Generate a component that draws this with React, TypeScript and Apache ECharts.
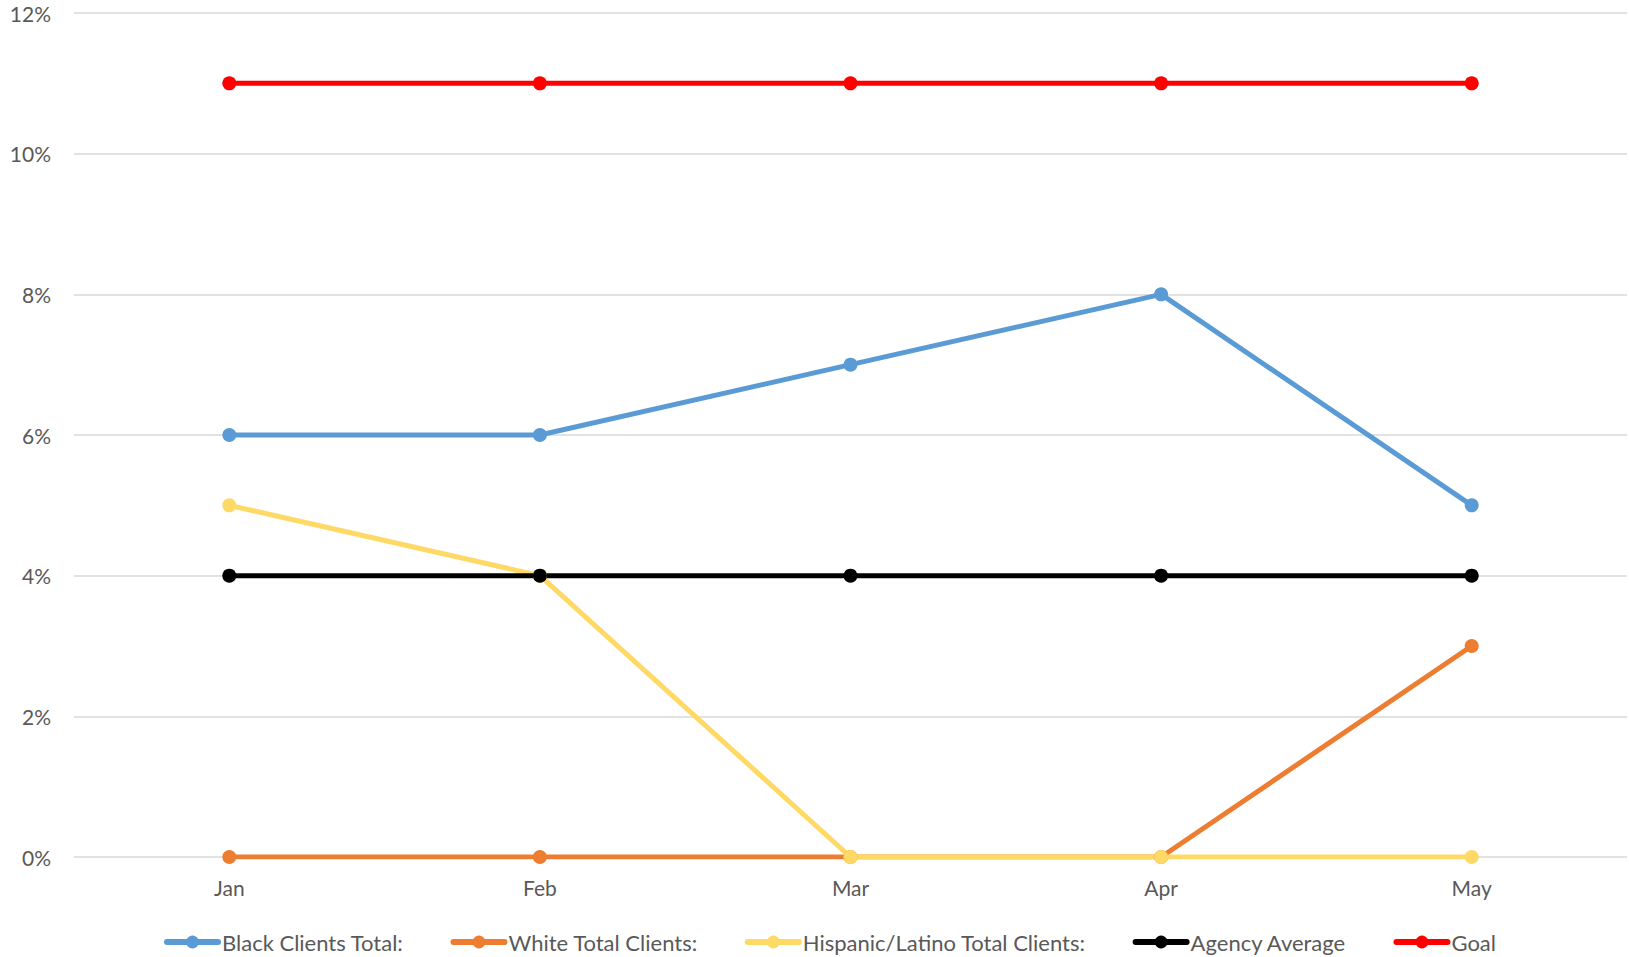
import React, { useEffect, useRef } from "react";
import * as echarts from "echarts";

const categories = ["Jan", "Feb", "Mar", "Apr", "May"];
const blackClients = [0.06, 0.06, 0.07, 0.08, 0.05];
const whiteClients = [0, 0, 0, 0, 0.03];
const hispanicClients = [0.05, 0.04, 0, 0, 0];
const agencyAverage = [0.04, 0.04, 0.04, 0.04, 0.04];
const goal = [0.11, 0.11, 0.11, 0.11, 0.11];

const seriesDefs = [
  { name: "Black Clients Total:", data: blackClients, color: "#5B9BD5" },
  { name: "White Total Clients:", data: whiteClients, color: "#ED7D31" },
  { name: "Hispanic/Latino Total Clients:", data: hispanicClients, color: "#FFD966" },
  { name: "Agency Average", data: agencyAverage, color: "#000000" },
  { name: "Goal", data: goal, color: "#FF0000" },
];

const FONT = "Lato, 'Open Sans', sans-serif";

export default function App() {
  const ref = useRef<HTMLDivElement>(null);
  useEffect(() => {
    if (!ref.current) return;
    const chart = echarts.init(ref.current, undefined, { renderer: "svg" });
    chart.setOption({
      animation: false,
      backgroundColor: "#ffffff",
      grid: { left: 74, right: 2, top: 13, bottom: 100, containLabel: false },
      legend: {
        left: 159,
        top: 926,
        itemWidth: 51,
        itemHeight: 16,
        itemGap: 47,
        lineStyle: { width: 6, cap: "round" },
        textStyle: { fontFamily: FONT, fontSize: 22, color: "#595959", padding: [0, 0, 0, -1] },
        data: seriesDefs.map((s) => s.name),
      },
      xAxis: {
        type: "category",
        data: categories,
        boundaryGap: true,
        axisLine: { show: false },
        axisTick: { show: false },
        axisLabel: { fontFamily: FONT, fontSize: 21, color: "#595959", margin: 20 },
      },
      yAxis: {
        type: "value",
        min: 0,
        max: 0.12,
        interval: 0.02,
        axisLine: { show: false },
        axisTick: { show: false },
        splitLine: { lineStyle: { color: "#D9D9D9", width: 1.5 } },
        axisLabel: {
          fontFamily: FONT,
          fontSize: 21,
          color: "#595959",
          margin: 23,
          formatter: (v: number) => `${Math.round(v * 100)}%`,
        },
      },
      series: seriesDefs.map((s) => ({
        name: s.name,
        type: "line",
        data: s.data,
        symbol: "circle",
        symbolSize: 14,
        itemStyle: { color: s.color },
        lineStyle: { color: s.color, width: 5, cap: "round" },
      })),
    });
    return () => chart.dispose();
  }, []);
  return (
    <div
      ref={ref}
      style={{ position: "fixed", left: 0, top: 0, width: 1629, height: 957, background: "#fff" }}
    />
  );
}
